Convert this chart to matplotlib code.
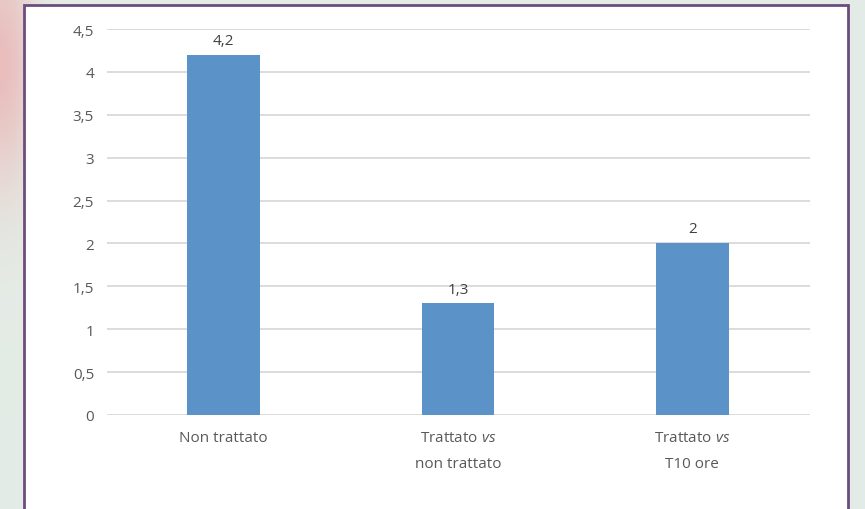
import numpy as np
import matplotlib
matplotlib.use('Agg')
import matplotlib.pyplot as plt
from matplotlib.ticker import FuncFormatter, MultipleLocator
from matplotlib.patches import Rectangle

categories = ['Non trattato', 'Trattato $\\mathit{vs}$\nnon trattato', 'Trattato $\\mathit{vs}$\nT10 ore']
values = [4.2, 1.3, 2]
value_labels = ['4,2', '1,3', '2']

plt.rcParams['font.family'] = ['Open Sans', 'DejaVu Sans']
plt.rcParams['mathtext.fontset'] = 'custom'
plt.rcParams['mathtext.rm'] = 'Open Sans'
plt.rcParams['mathtext.it'] = 'Open Sans:italic'

fig = plt.figure(figsize=(8.65, 5.10), dpi=100)
fig.patch.set_facecolor('#e4ece6')

# blurred background photo, roughly
bg = fig.add_axes([0, 0, 1, 1], zorder=-10)
img = np.ones((51, 87, 3)) * np.array([0.894, 0.925, 0.902])
yy, xx = np.mgrid[0:51, 0:87]
w = 0.8 * np.exp(-((xx - 0) ** 2) / 8.0 - ((yy - 6) ** 2) / 150.0)
img = img * (1 - w[..., None]) + np.array([0.92, 0.70, 0.70]) * w[..., None]
bg.imshow(img, aspect='auto', interpolation='bilinear', extent=[0, 1, 0, 1])
bg.axis('off')

# white panel with purple border
fig.patches.append(Rectangle((24 / 865, -0.2), 824 / 865, 1.2 - 6 / 510,
                             transform=fig.transFigure, facecolor='white',
                             edgecolor='#6d4c7d', linewidth=2, zorder=-5))

ax = fig.add_axes([106.5 / 865, 1 - 416 / 510, 703 / 865, 386 / 510])
ax.set_facecolor('none')
x = np.arange(len(categories))
ax.bar(x, values, width=0.31, color='#5b93c9', zorder=3)
for xi, v, lab in zip(x, values, value_labels):
    ax.annotate(lab, (xi, v), xytext=(0, 5), textcoords='offset points',
                ha='center', va='bottom', fontsize=11, color='#404040')

ax.set_xlim(-0.5, 2.5)
ax.set_ylim(0, 4.5)
ax.yaxis.set_major_locator(MultipleLocator(0.5))
ax.yaxis.set_major_formatter(FuncFormatter(lambda v, p: ('%g' % v).replace('.', ',')))
ax.grid(axis='y', color='#d9d9d9', linewidth=1.3, zorder=0)
for s in ax.spines.values():
    s.set_visible(False)
ax.tick_params(axis='both', length=0, labelsize=11, labelcolor='#595959')
ax.tick_params(axis='y', pad=9)
ax.tick_params(axis='x', pad=11)
ax.set_xticks(x)
ax.set_xticklabels(categories, linespacing=2.0)

fig.savefig('out.png', dpi=100)
